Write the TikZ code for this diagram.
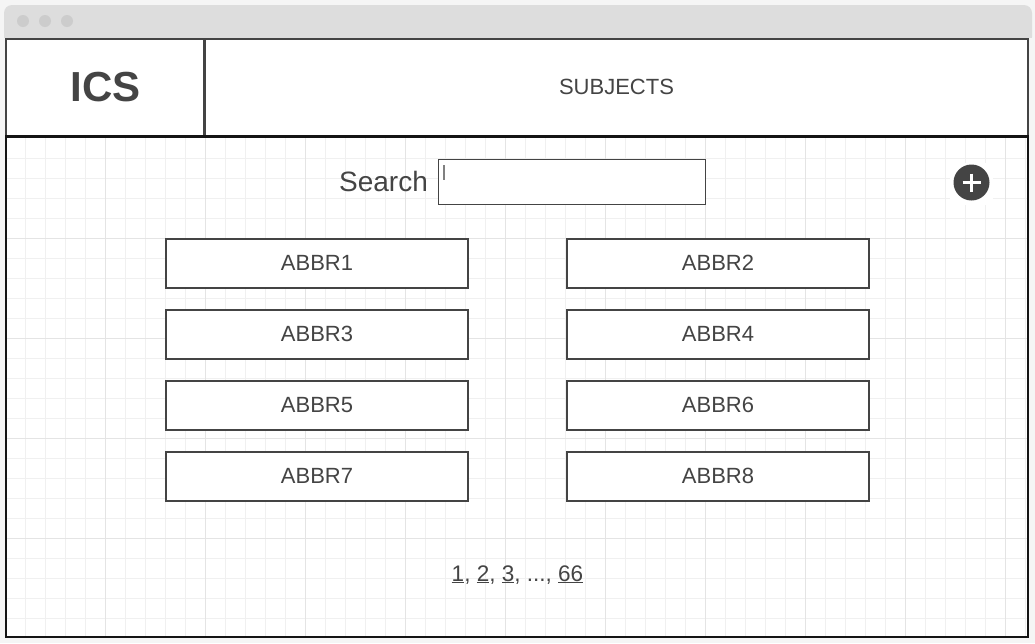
\documentclass[tikz,border=0pt]{standalone}
\usepackage{fontspec}
\setmainfont{Liberation Sans}
\definecolor{ink}{HTML}{444444}
\definecolor{minorgrid}{HTML}{F0F0F0}
\definecolor{majorgrid}{HTML}{E4E4E4}
\definecolor{barfill}{HTML}{DDDDDD}
\definecolor{dotfill}{HTML}{CCCCCC}
\definecolor{pagebg}{HTML}{F5F5F5}
\definecolor{darkline}{HTML}{141414}
\newsavebox{\ulbox}
\newcommand{\pagenum}[1]{\sbox{\ulbox}{#1}\rlap{\rule[-1.8pt]{\wd\ulbox}{1.1pt}}\usebox{\ulbox}}
\tikzset{
  abbrbox/.style={draw=ink,line width=1.5pt,fill=white,minimum width=302.5pt*0.75,minimum height=49.5pt*0.75,inner sep=0pt,text=ink,font=\fontsize{16.5}{18}\selectfont,text height=10.3pt,text depth=0pt},
  winbtn/.style={circle,fill=dotfill,minimum size=9pt,inner sep=0pt},
  label/.style={text=ink,inner sep=0pt},
  pagelink/.style={text=ink,inner sep=0pt,font=\fontsize{16.9}{18}\selectfont}
}
\begin{document}
\begin{tikzpicture}[x=0.75pt,y=-0.75pt]
\useasboundingbox (0,0) rectangle (1035,643);
\fill[pagebg] (0,0) rectangle (1035,643);
\fill[barfill,rounded corners=6pt] (4,5) rectangle (1032,45);
\fill[pagebg] (0,38) rectangle (1035,643);
\fill[white] (6,38) rectangle (1028,637);
\node[winbtn] (d1) at (23,21) {};
\node[winbtn] (d2) at (45,21) {};
\node[winbtn] (d3) at (67,21) {};
% grid
\foreach \x in {25,45,...,1025} \draw[minorgrid,line width=0.75pt] (\x.5,137) -- (\x.5,637);
\foreach \y in {158,178,...,618} \draw[minorgrid,line width=0.75pt] (6,\y.5) -- (1028,\y.5);
\foreach \x in {105,205,...,1005} \draw[majorgrid,line width=0.75pt] (\x.5,137) -- (\x.5,637);
\foreach \y in {238,338,...,538} \draw[majorgrid,line width=0.75pt] (6,\y.5) -- (1028,\y.5);
% window
\draw[ink,line width=1.5pt] (6,39) rectangle (1028,136);
\draw[ink,line width=2.25pt] (204.5,39) -- (204.5,136);
\draw[darkline,line width=1.5pt] (6,136) -- (1028,136) -- (1028,637) -- (6,637) -- cycle;
\draw[darkline,line width=2.25pt] (6,136.5) -- (1028,136.5);
\node[label,font=\fontsize{31.5}{34}\selectfont\bfseries] (logo) at (105.5,87) {ICS};
\node[label,font=\fontsize{16.5}{18}\selectfont] (subj) at (616.5,87) {SUBJECTS};
% search
\node[label,font=\fontsize{21}{24}\selectfont,anchor=center] (srch) at (383.5,181.5) {Search};
\node[draw=ink,line width=0.75pt,fill=white,minimum width=267pt*0.75,minimum height=45pt*0.75,inner sep=0pt] (input) at (572,182) {};
\draw[black!50,line width=1.1pt] (444,165) -- (444,180);
% add
\fill[white] (950,163) rectangle (993,205);
\node[circle,fill=ink,minimum size=27pt,inner sep=0pt] (add) at (971.5,182.5) {};
\draw[white,line width=2.9pt] (962.5,182.5) -- (980.5,182.5) (971.5,173.5) -- (971.5,191.5);
% boxes
\node[abbrbox] (a1) at (317,263.5) {ABBR1};
\node[abbrbox] (a2) at (718,263.5) {ABBR2};
\node[abbrbox] (a3) at (317,334.5) {ABBR3};
\node[abbrbox] (a4) at (718,334.5) {ABBR4};
\node[abbrbox] (a5) at (317,405.5) {ABBR5};
\node[abbrbox] (a6) at (718,405.5) {ABBR6};
\node[abbrbox] (a7) at (317,476.5) {ABBR7};
\node[abbrbox] (a8) at (718,476.5) {ABBR8};
% pagination
\node[pagelink,anchor=base] (pages) at (517.5,581) {\pagenum{1}, \pagenum{2}, \pagenum{3}, ..., \pagenum{66}};
\end{tikzpicture}
\end{document}
